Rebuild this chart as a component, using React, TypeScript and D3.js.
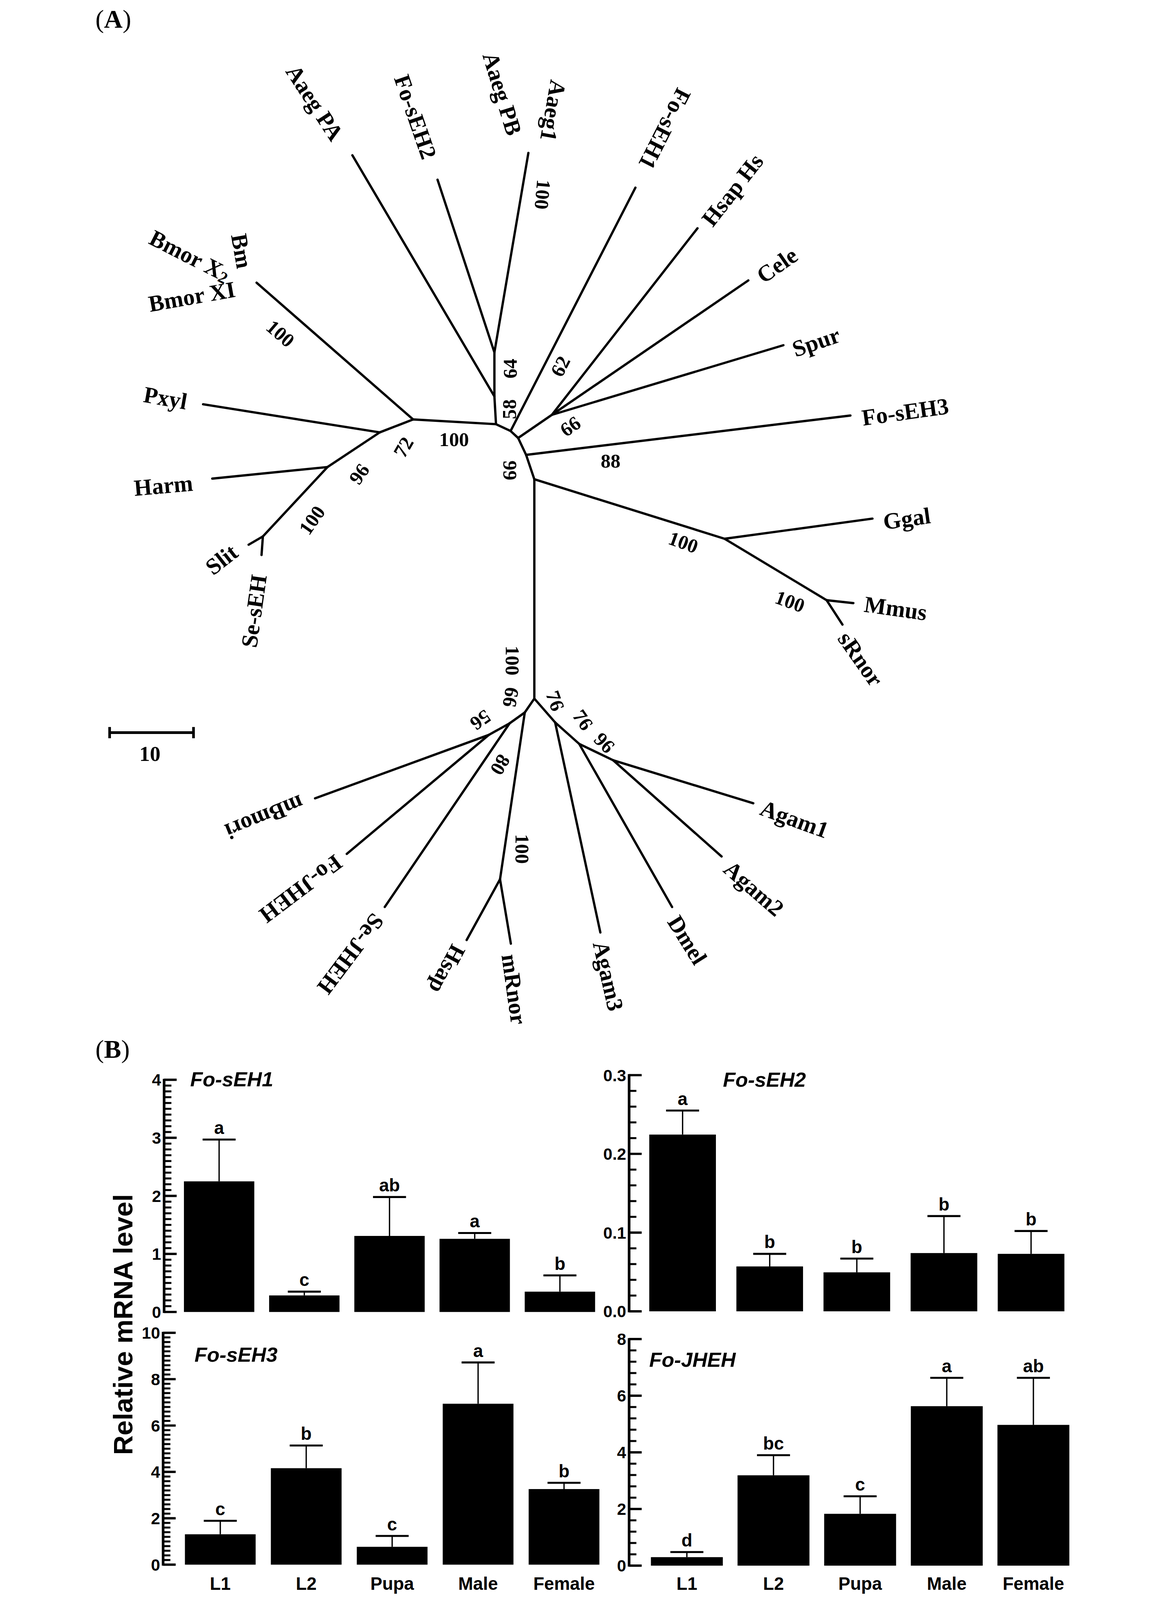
import React from 'react';
import * as d3 from 'd3';

// ================= PANEL A DATA: unrooted tree (tree units; scale bar = 10) =================
const treeNodes = [
  { id: 'Nf', parent: null, x: 0, y: 0 },
  { id: 'Ne', parent: 'Nf', x: -0.98, y: -2.91 },
  { id: 'Nb', parent: 'Ne', x: -1.93, y: -4.92 },
  { id: 'Na', parent: 'Nb', x: -2.83, y: -5.75 },
  { id: 'C1', parent: 'Na', x: -4.57, y: -6.57 },
  { id: 'N58', parent: 'C1', x: -4.76, y: -9.88 },
  { id: 'N64', parent: 'N58', x: -4.76, y: -15.12 },
  { id: 'AaegPB', parent: 'N64', x: -0.71, y: -38.9 },
  { id: 'FoSEH2', parent: 'N64', x: -11.54, y: -35.71 },
  { id: 'AaegPA', parent: 'N58', x: -21.69, y: -38.62 },
  { id: 'P', parent: 'C1', x: -14.45, y: -7.13 },
  { id: 'Bmor', parent: 'P', x: -33.11, y: -23.43 },
  { id: 'Q', parent: 'P', x: -18.43, y: -5.59 },
  { id: 'Pxyl', parent: 'Q', x: -39.49, y: -8.94 },
  { id: 'H', parent: 'Q', x: -24.65, y: -1.46 },
  { id: 'Harm', parent: 'H', x: -38.39, y: -0.08 },
  { id: 'S', parent: 'H', x: -32.36, y: 6.81 },
  { id: 'Slit', parent: 'S', x: -34.06, y: 7.8 },
  { id: 'SeSEH', parent: 'S', x: -32.52, y: 9.02 },
  { id: 'FoSEH1', parent: 'Na', x: 12.05, y: -34.76 },
  { id: 'Nc', parent: 'Nb', x: 2.09, y: -7.68 },
  { id: 'HsapHs', parent: 'Nc', x: 19.45, y: -29.92 },
  { id: 'Cele', parent: 'Nc', x: 25.51, y: -23.7 },
  { id: 'Spur', parent: 'Nc', x: 29.69, y: -15.98 },
  { id: 'FoSEH3', parent: 'Ne', x: 37.68, y: -7.6 },
  { id: 'G', parent: 'Nf', x: 22.68, y: 7.09 },
  { id: 'Ggal', parent: 'G', x: 40.31, y: 4.69 },
  { id: 'M', parent: 'G', x: 34.84, y: 14.41 },
  { id: 'Mmus', parent: 'M', x: 38.03, y: 14.76 },
  { id: 'sRnor', parent: 'M', x: 36.73, y: 17.32 },
  { id: 'B', parent: 'Nf', x: 0, y: 26.14 },
  { id: 'L1', parent: 'B', x: -1.14, y: 27.8 },
  { id: 'L2', parent: 'L1', x: -2.95, y: 29.09 },
  { id: 'L3', parent: 'L2', x: -5.43, y: 30.47 },
  { id: 'mBmori', parent: 'L3', x: -26.14, y: 38.03 },
  { id: 'FoJHEH', parent: 'L3', x: -22.36, y: 44.65 },
  { id: 'SeJHEH', parent: 'L2', x: -17.83, y: 50.98 },
  { id: 'HM', parent: 'L1', x: -4.09, y: 47.68 },
  { id: 'Hsap', parent: 'HM', x: -8.07, y: 54.92 },
  { id: 'mRnor', parent: 'HM', x: -2.8, y: 55.35 },
  { id: 'R1', parent: 'B', x: 2.48, y: 28.98 },
  { id: 'Agam3', parent: 'R1', x: 7.87, y: 54.02 },
  { id: 'R2', parent: 'R1', x: 5.35, y: 31.54 },
  { id: 'Dmel', parent: 'R2', x: 16.42, y: 50.98 },
  { id: 'R3', parent: 'R2', x: 9.41, y: 33.5 },
  { id: 'Agam1', parent: 'R3', x: 26.1, y: 38.62 },
  { id: 'Agam2', parent: 'R3', x: 22.32, y: 44.96 },
];

// tip label text -> tip node
const tipLabels = [
  ['Aaeg PA', 'AaegPA'], ['Fo-sEH2', 'FoSEH2'], ['Aaeg PB', 'AaegPB'], ['Aaeg1', 'AaegPB'],
  ['Fo-sEH1', 'FoSEH1'], ['Hsap Hs', 'HsapHs'], ['Cele', 'Cele'], ['Spur', 'Spur'],
  ['Fo-sEH3', 'FoSEH3'], ['Ggal', 'Ggal'], ['Mmus', 'Mmus'], ['sRnor', 'sRnor'],
  ['Bmor XI', 'Bmor'], ['Bmor X2', 'Bmor'], ['Bm', 'Bmor'], ['Pxyl', 'Pxyl'], ['Harm', 'Harm'],
  ['Slit', 'Slit'], ['Se-sEH', 'SeSEH'], ['mBmori', 'mBmori'], ['Fo-JHEH', 'FoJHEH'],
  ['Se-JHEH', 'SeJHEH'], ['Hsap', 'Hsap'], ['mRnor', 'mRnor'], ['Agam3', 'Agam3'],
  ['Dmel', 'Dmel'], ['Agam2', 'Agam2'], ['Agam1', 'Agam1'],
];

// bootstrap support values and where they sit (tree units)
const bootValues = ['100', '100', '64', '58', '62', '66', '88', '99', '100', '72', '96', '100', '100', '100', '100', '66', '56', '80', '100', '76', '76', '96'];
const bootX = [0.98, -30.28, -2.91, -2.99, 3.11, 4.29, 9.09, -2.91, -9.57, -15.59, -20.87, -26.5, 17.76, 30.47, -2.6, -2.8, -6.42, -4.06, -1.46, 2.48, 5.79, 8.35];
const bootY = [-33.94, -17.36, -13.19, -8.35, -13.46, -6.3, -2.17, -1.06, -4.76, -3.82, -0.63, 4.88, 7.52, 14.57, 21.61, 25.98, 28.7, 34.02, 44.06, 26.42, 28.7, 31.42];

const scaleBarValue = 10;

// ================= PANEL B DATA =================
const stages = ['L1', 'L2', 'Pupa', 'Male', 'Female'];

const sEH1Mean = [2.25, 0.285, 1.31, 1.26, 0.35];
const sEH1Err = [0.72, 0.065, 0.67, 0.1, 0.28];
const sEH1Letters = ['a', 'c', 'ab', 'a', 'b'];

const sEH2Mean = [0.2245, 0.057, 0.0495, 0.074, 0.073];
const sEH2Err = [0.0305, 0.016, 0.0175, 0.047, 0.029];
const sEH2Letters = ['a', 'b', 'b', 'b', 'b'];

const sEH3Mean = [1.31, 4.16, 0.77, 6.94, 3.26];
const sEH3Err = [0.58, 0.98, 0.47, 1.78, 0.27];
const sEH3Letters = ['c', 'b', 'c', 'a', 'b'];

const jhehMean = [0.3, 3.19, 1.83, 5.63, 4.97];
const jhehErr = [0.18, 0.71, 0.62, 1.0, 1.66];
const jhehLetters = ['d', 'bc', 'c', 'a', 'ab'];

const yAxisTitle = 'Relative mRNA level';

// ================= LAYOUT / STYLE =================
const W = 3011;
const H = 4844;
const TREE_ORIGIN = { x: 1343, y: 1451 };
const UNIT10_PX = 254;
const SERIF = '"Liberation Serif", "Times New Roman", serif';
const SANS = '"Liberation Sans", Arial, Helvetica, sans-serif';

const tipLabelLayout: Record<string, { dx: number; dy: number; rot: number }> = {
  'Aaeg PA': { dx: -114, dy: -159, rot: 57 },
  'Fo-sEH2': { dx: -67, dy: -190, rot: 71 },
  'Aaeg PB': { dx: -79, dy: -179, rot: 73 },
  'Aaeg1': { dx: 75, dy: -128, rot: 100 },
  'Fo-sEH1': { dx: 89, dy: -178, rot: 117 },
  'Hsap Hs': { dx: 106, dy: -116, rot: -52 },
  'Cele': { dx: 87, dy: -46, rot: -35 },
  'Spur': { dx: 99, dy: -10, rot: -19 },
  'Fo-sEH3': { dx: 166, dy: -11, rot: -8 },
  'Ggal': { dx: 104, dy: 0, rot: -8 },
  'Mmus': { dx: 128, dy: 16, rot: 8 },
  'sRnor': { dx: 55, dy: 104, rot: 55 },
  'Bmor XI': { dx: -196, dy: 42, rot: -10 },
  'Bmor X2': { dx: -202, dy: -81, rot: 27 },
  'Bm': { dx: -45, dy: -96, rot: 80 },
  'Pxyl': { dx: -114, dy: -19, rot: 10 },
  'Harm': { dx: -148, dy: 21, rot: -5 },
  'Slit': { dx: -82, dy: 45, rot: -38 },
  'Se-sEH': { dx: -23, dy: 170, rot: -82 },
  'mBmori': { dx: -153, dy: 57, rot: 158 },
  'Fo-JHEH': { dx: -139, dy: 106, rot: 143 },
  'Se-JHEH': { dx: -103, dy: 142, rot: 127 },
  'Hsap': { dx: -59, dy: 88, rot: 118 },
  'mRnor': { dx: 10, dy: 138, rot: 82 },
  'Agam3': { dx: 24, dy: 132, rot: 77 },
  'Dmel': { dx: 46, dy: 100, rot: 58 },
  'Agam2': { dx: 98, dy: 97, rot: 41 },
  'Agam1': { dx: 125, dy: 48, rot: 20 },
};
const bootRot = [95, 41, -90, -90, -63, -35, 0, 90, 0, -60, -55, -55, 20, 20, 90, 100, 145, 120, 90, 70, 55, 45];

const panels = [
  { key: 'p1', title: 'Fo-sEH1', mean: sEH1Mean, err: sEH1Err, letters: sEH1Letters, max: 4, major: 1, minor: 0.1, fmt: d3.format('d'),
    axisX: 222, y0: 3972, yTop: 3269, band: [282, 1527], pad: 0.174, titleX: 301, titleY: 3289, xLabels: false },
  { key: 'p2', title: 'Fo-sEH2', mean: sEH2Mean, err: sEH2Err, letters: sEH2Letters, max: 0.3, major: 0.1, minor: 0.02, fmt: d3.format('.1f'),
    axisX: 1630, y0: 3970, yTop: 3255, band: [1691, 2948], pad: 0.235, titleX: 1914, titleY: 3290, xLabels: false },
  { key: 'p3', title: 'Fo-sEH3', mean: sEH3Mean, err: sEH3Err, letters: sEH3Letters, max: 10, major: 2, minor: 0.2, fmt: d3.format('d'),
    axisX: 219, y0: 4737, yTop: 4035, band: [285, 1540], pad: 0.177, titleX: 314, titleY: 4123, xLabels: true },
  { key: 'p4', title: 'Fo-JHEH', mean: jhehMean, err: jhehErr, letters: jhehLetters, max: 8, major: 2, minor: 0.4, fmt: d3.format('d'),
    axisX: 1630, y0: 4740, yTop: 4054, band: [1696, 2963], pad: 0.17, titleX: 1691, titleY: 4138, xLabels: true },
];

function BarPanel({ p }: { p: any }) {
  const y = d3.scaleLinear().domain([0, p.max]).range([p.y0, p.yTop]);
  const x = d3.scaleBand<string>().domain(stages).range(p.band).paddingInner(p.pad).paddingOuter(0);
  const n = Math.round(p.max / p.minor);
  const ticks = d3.range(0, n + 1).map((i) => i * p.minor);
  const isMajor = (v: number) => Math.abs(v / p.major - Math.round(v / p.major)) < 1e-6;
  return (
    <g>
      <line x1={p.axisX} x2={p.axisX} y1={y(0) + 3} y2={y(p.max) - 3} stroke="#000" strokeWidth={8} />
      {ticks.map((t, i) => (
        <line key={i} x1={p.axisX} x2={p.axisX + (isMajor(t) ? 38 : 22)} y1={y(t)} y2={y(t)} stroke="#000" strokeWidth={isMajor(t) ? 7 : 6} />
      ))}
      {ticks.filter(isMajor).map((t, i) => (
        <text key={'l' + i} x={p.axisX - 9} y={y(t)} dy="0.36em" textAnchor="end" fontFamily={SANS} fontWeight="bold" fontSize={50}>
          {p.fmt(t)}
        </text>
      ))}
      {stages.map((s, i) => {
        const cx = (x(s) as number) + x.bandwidth() / 2;
        const top = y(p.mean[i]);
        const et = y(p.mean[i] + p.err[i]);
        return (
          <g key={s}>
            <rect x={x(s)} y={top} width={x.bandwidth()} height={y(0) - top} fill="#000" />
            <line x1={cx} x2={cx} y1={top} y2={et} stroke="#000" strokeWidth={4} />
            <line x1={cx - 50} x2={cx + 50} y1={et} y2={et} stroke="#000" strokeWidth={6} />
            <text x={cx} y={et - 17} textAnchor="middle" fontFamily={SANS} fontWeight="bold" fontSize={54}>
              {p.letters[i]}
            </text>
            {p.xLabels && (
              <text x={cx} y={4813} textAnchor="middle" fontFamily={SANS} fontWeight="bold" fontSize={54}>
                {s}
              </text>
            )}
          </g>
        );
      })}
      <text x={p.titleX} y={p.titleY} fontFamily={SANS} fontWeight="bold" fontStyle="italic" fontSize={62}>
        {p.title}
      </text>
    </g>
  );
}

function useViewport() {
  const get = () => ({ w: window.innerWidth || W, h: window.innerHeight || H });
  const [vp, setVp] = React.useState(get);
  React.useEffect(() => {
    document.documentElement.style.overflow = 'hidden';
    document.body.style.margin = '0';
    document.body.style.overflow = 'hidden';
    const upd = () => setVp(get());
    upd();
    window.addEventListener('resize', upd);
    return () => window.removeEventListener('resize', upd);
  }, []);
  return vp;
}

export default function App() {
  const vp = useViewport();
  // the whole figure must stay inside the visible window
  const svgW = Math.min(vp.w, W);
  const svgH = Math.min(vp.h, H);

  const ux = d3.scaleLinear().domain([0, scaleBarValue]).range([TREE_ORIGIN.x, TREE_ORIGIN.x + UNIT10_PX]);
  const uy = d3.scaleLinear().domain([0, scaleBarValue]).range([TREE_ORIGIN.y, TREE_ORIGIN.y + UNIT10_PX]);
  const byId = new Map(treeNodes.map((n) => [n.id, n]));
  const line = d3.line<{ x: number; y: number }>().x((d) => ux(d.x)).y((d) => uy(d.y));
  const links = treeNodes.filter((n) => n.parent).map((n) => [byId.get(n.parent as string)!, n]);

  const sbX0 = 57;
  const sbY = 2218;
  const sbLen = ux(scaleBarValue) - ux(0);

  return (
    <svg width={svgW} height={svgH} viewBox={`0 0 ${W} ${H}`} preserveAspectRatio="xMidYMid meet"
      style={{ display: 'block', background: '#fff' }}>
      <rect x={0} y={0} width={W} height={H} fill="#fff" />
      {/* ---------- Panel A ---------- */}
      <text x={14} y={84} fontFamily={SERIF} fontSize={78}>
        (<tspan fontWeight="bold">A</tspan>)
      </text>
      <g fill="none" stroke="#000" strokeWidth={7} strokeLinecap="round" strokeLinejoin="round">
        {links.map(([a, b], i) => (
          <path key={i} d={line([a, b]) as string} />
        ))}
      </g>
      {tipLabels.map(([txt, id]) => {
        const n = byId.get(id)!;
        const L = tipLabelLayout[txt];
        const cx = ux(n.x) + L.dx;
        const cy = uy(n.y) + L.dy;
        return (
          <text key={txt} transform={`translate(${cx},${cy}) rotate(${L.rot})`} textAnchor="middle" dominantBaseline="central"
            fontFamily={SERIF} fontWeight="bold" fontSize={70}>
            {txt === 'Bmor X2' ? (
              <>
                Bmor X<tspan fontSize={50} dy={12}>2</tspan>
              </>
            ) : txt}
          </text>
        );
      })}
      {bootValues.map((v, i) => (
        <text key={'b' + i} transform={`translate(${ux(bootX[i])},${uy(bootY[i])}) rotate(${bootRot[i]})`} textAnchor="middle"
          dominantBaseline="central" fontFamily={SERIF} fontWeight="bold" fontSize={60}>
          {v}
        </text>
      ))}
      <g stroke="#000" strokeWidth={8}>
        <line x1={sbX0} x2={sbX0 + sbLen} y1={sbY} y2={sbY} />
        <line x1={sbX0} x2={sbX0} y1={sbY - 17} y2={sbY + 17} />
        <line x1={sbX0 + sbLen} x2={sbX0 + sbLen} y1={sbY - 17} y2={sbY + 17} />
      </g>
      <text x={sbX0 + sbLen / 2 - 5} y={2304} textAnchor="middle" fontFamily={SERIF} fontWeight="bold" fontSize={64}>
        {scaleBarValue}
      </text>

      {/* ---------- Panel B ---------- */}
      <text x={14} y={3203} fontFamily={SERIF} fontSize={78}>
        (<tspan fontWeight="bold">B</tspan>)
      </text>
      <text transform={`translate(126,4010) rotate(-90)`} textAnchor="middle" fontFamily={SANS} fontWeight="bold" fontSize={82}>
        {yAxisTitle}
      </text>
      {panels.map((p) => (
        <BarPanel key={p.key} p={p} />
      ))}
    </svg>
  );
}
